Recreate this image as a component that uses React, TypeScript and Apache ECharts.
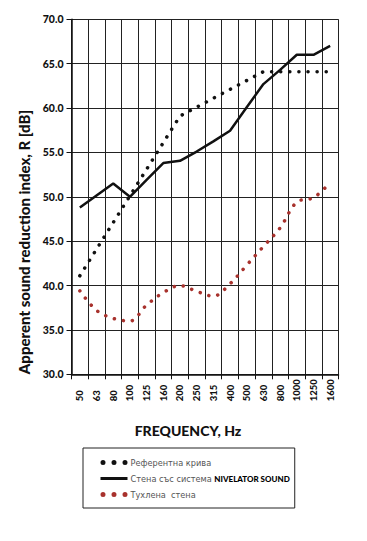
import React, { useEffect, useRef } from "react";
import * as echarts from "echarts";

const categories = ["50", "63", "80", "100", "125", "160", "200", "250", "315", "400", "500", "630", "800", "1000", "1250", "1600"];
const referenceCurve = [41.1, 44.1, 47.1, 50.1, 53.1, 56.1, 59.1, 60.1, 61.1, 62.1, 63.1, 64.1, 64.1, 64.1, 64.1, 64.1];
const nivelatorWall = [48.8, 50.15, 51.5, 50.0, 51.9, 53.8, 54.05, 55.1, 56.25, 57.45, 60.1, 62.7, 64.3, 66.0, 66.0, 67.0];
const brickWall = [39.4, 37.2, 36.3, 36.0, 37.8, 39.2, 40.0, 39.35, 38.8, 40.2, 42.3, 44.4, 46.5, 49.4, 49.9, 51.6];

const yTicks = { min: 30, max: 70, interval: 5 };

const refName = "Референтна крива";
const nivName = "Стена със система NIVELATOR SOUND";
const brickName = "Тухлена  стена";

const yTitle = "Apperent sound reduction index, R [dB]";
const xTitle = "FREQUENCY, Hz";

const dotsIcon =
  "path://M0,2.5A2.5,2.5,0,1,1,5,2.5A2.5,2.5,0,1,1,0,2.5Z M11,2.5A2.5,2.5,0,1,1,16,2.5A2.5,2.5,0,1,1,11,2.5Z M22,2.5A2.5,2.5,0,1,1,27,2.5A2.5,2.5,0,1,1,22,2.5Z";

export default function App() {
  const ref = useRef<HTMLDivElement>(null);
  useEffect(() => {
    document.body.style.margin = "0";
    if (!ref.current) return;
    const chart = echarts.init(ref.current, null, { renderer: "svg" });
    const dotStyle = (color: string) => ({ color, width: 3.5, type: [0.1, 9] as number[], cap: "round" as const });
    chart.setOption({
      animation: false,
      backgroundColor: "#ffffff",
      grid: { left: 71.5, right: 28.5, top: 19.3, bottom: 166.7 },
      xAxis: {
        type: "category",
        data: categories,
        boundaryGap: true,
        axisLine: { lineStyle: { color: "#111", width: 1.5 } },
        axisTick: { show: true, length: 5, lineStyle: { color: "#111" } },
        axisLabel: {
          rotate: 90,
          align: "left",
          verticalAlign: "middle",
          margin: 27,
          fontFamily: "Lato",
          fontWeight: 900,
          fontSize: 9.5,
          color: "#111",
          interval: 0,
        },
        splitLine: { show: true, lineStyle: { color: "#222", width: 1 } },
      },
      yAxis: {
        type: "value",
        min: yTicks.min,
        max: yTicks.max,
        interval: yTicks.interval,
        axisLine: { show: true, lineStyle: { color: "#111", width: 1.5 } },
        axisTick: { show: true, length: 5, lineStyle: { color: "#111" } },
        axisLabel: {
          margin: 8,
          fontFamily: "Lato",
          fontWeight: 900,
          fontSize: 10.5,
          color: "#111",
          formatter: (v: number) => v.toFixed(1),
        },
        splitLine: { show: true, lineStyle: { color: "#222", width: 1 } },
      },
      legend: {
        orient: "vertical",
        left: 83,
        top: 448,
        padding: [10.5, 5, 9.5, 16],
        borderColor: "#222",
        borderWidth: 1,
        itemWidth: 27,
        itemHeight: 5,
        itemGap: 8,
        selectedMode: false,
        data: [
          { name: refName, icon: dotsIcon, itemStyle: { color: "#111" } },
          { name: nivName, itemStyle: { color: "transparent", borderWidth: 0, opacity: 0 }, lineStyle: { width: 3, color: "#111" } },
          { name: brickName, icon: dotsIcon, itemStyle: { color: "#a8322d" } },
        ],
        formatter: (name: string) =>
          name === nivName ? "{a|Стена със система }{b|NIVELATOR SOUND}" : name,
        textStyle: {
          fontFamily: "DejaVu Sans",
          fontSize: 8.2,
          color: "#555",
          padding: [0, 0, 0, -2],
          rich: {
            a: { fontFamily: "DejaVu Sans", fontSize: 8.2, color: "#555" },
            b: { fontFamily: "Lato", fontWeight: 900, fontSize: 8, color: "#000" },
          },
        },
      },
      graphic: [
        {
          type: "text",
          x: 23.5,
          y: 242,
          rotation: Math.PI / 2,
          style: {
            text: yTitle,
            align: "center",
            verticalAlign: "middle",
            fontFamily: "Lato",
            fontWeight: 900,
            fontSize: 15,
            fill: "#111",
          },
        },
        {
          type: "text",
          x: 188,
          y: 430,
          style: {
            text: xTitle,
            align: "center",
            verticalAlign: "middle",
            fontFamily: "Lato",
            fontWeight: 900,
            fontSize: 14,
            fill: "#111",
          },
        },
      ],
      series: [
        {
          name: brickName,
          type: "line",
          data: brickWall,
          smooth: 0.35,
          symbol: "none",
          lineStyle: dotStyle("#a8322d"),
          itemStyle: { color: "#a8322d" },
          z: 2,
        },
        {
          name: refName,
          type: "line",
          data: referenceCurve,
          symbol: "none",
          lineStyle: dotStyle("#111"),
          itemStyle: { color: "#111" },
          z: 3,
        },
        {
          name: nivName,
          type: "line",
          data: nivelatorWall,
          symbol: "none",
          lineStyle: { color: "#111", width: 2.5 },
          itemStyle: { color: "#111" },
          z: 4,
        },
      ],
    });
    return () => chart.dispose();
  }, []);
  return <div ref={ref} style={{ position: "absolute", left: 0, top: 0, width: 367, height: 541 }} />;
}
